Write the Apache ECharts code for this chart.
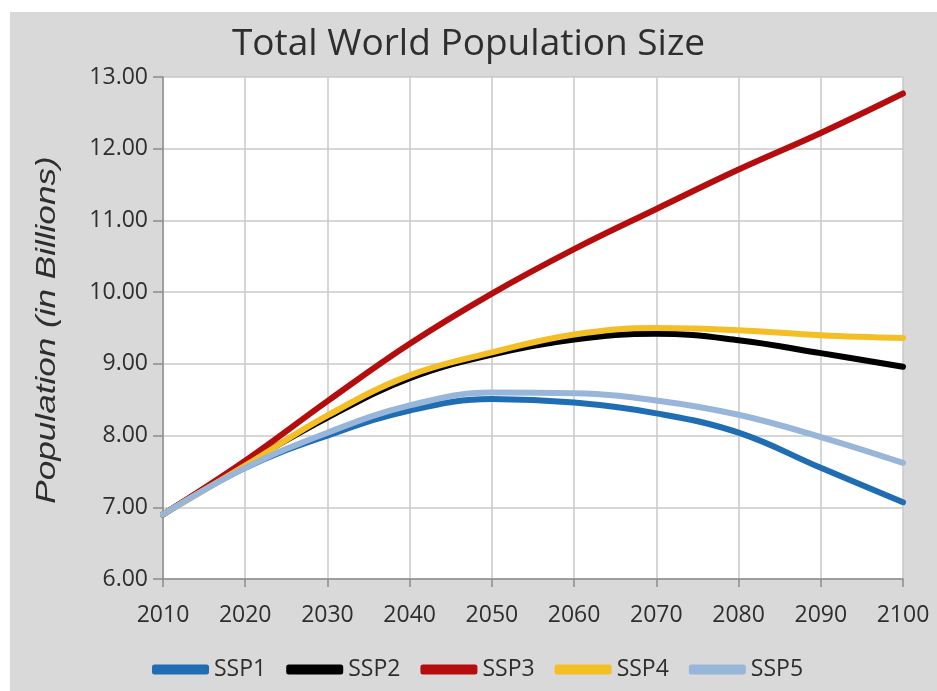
<!DOCTYPE html>
<html>
<head>
<meta charset="utf-8">
<script src="https://cdn.jsdelivr.net/npm/echarts@6/dist/echarts.min.js"></script>
<style>
html,body{margin:0;padding:0;background:#fff;}
#c{width:937px;height:691px;}
</style>
</head>
<body>
<div id="c"></div>
<script>
const years = [2010, 2020, 2030, 2040, 2050, 2060, 2070, 2080, 2090, 2100];
const seriesNames = ['SSP1', 'SSP2', 'SSP3', 'SSP4', 'SSP5'];
const ssp1 = [6.9, 7.55, 8.0, 8.35, 8.51, 8.46, 8.31, 8.04, 7.55, 7.07];
const ssp2 = [6.9, 7.6, 8.25, 8.8, 9.13, 9.34, 9.42, 9.33, 9.15, 8.96];
const ssp3 = [6.9, 7.65, 8.48, 9.28, 9.98, 10.6, 11.16, 11.71, 12.22, 12.77];
const ssp4 = [6.9, 7.58, 8.28, 8.84, 9.16, 9.41, 9.5, 9.47, 9.4, 9.36];
const ssp5 = [6.9, 7.55, 8.04, 8.42, 8.6, 8.59, 8.49, 8.29, 7.98, 7.62];
const colors = ['#1f6db3', '#000000', '#b50d0d', '#f4bf26', '#98b6da'];
const allValues = [ssp1, ssp2, ssp3, ssp4, ssp5];
const titleText = 'Total World Population Size';
const yAxisName = 'Population (in Billions)';

const chart = echarts.init(document.getElementById('c'), null, {renderer: 'canvas'});
const font = '"Open Sans", "Noto Sans", sans-serif';
const txt = '#2e2e2e';
chart.setOption({
  animation: false,
  backgroundColor: '#ffffff',
  graphic: [{
    type: 'rect', z: -10, silent: true,
    shape: {x: 10, y: 12, width: 927, height: 679},
    style: {fill: '#d9d9d9'}
  }, {
    type: 'text', silent: true, z: 10,
    x: 47, y: 330, rotation: Math.PI / 2, scaleX: 1.3, scaleY: 1,
    style: {
      text: yAxisName,
      fontFamily: '"Liberation Sans", Arial, sans-serif', fontStyle: 'italic', fontSize: 27,
      fill: txt, align: 'center', verticalAlign: 'middle'
    }
  }],
  title: {
    text: titleText,
    left: 'center', top: 21,
    textStyle: {fontFamily: font, fontSize: 37, fontWeight: 'normal', color: txt}
  },
  grid: {left: 163, top: 77, right: 34, bottom: 112, show: true, backgroundColor: '#ffffff', borderWidth: 0, containLabel: false},
  legend: {
    top: 653, left: 147,
    itemWidth: 57, itemHeight: 10, itemGap: 20,
    icon: 'roundRect',
    textStyle: {fontFamily: font, fontSize: 23, color: txt},
    data: seriesNames
  },
  xAxis: {
    type: 'value', min: 2010, max: 2100, interval: 10,
    axisLine: {show: true, lineStyle: {color: '#8c8c8c', width: 1.5}},
    axisTick: {show: true, length: 8, lineStyle: {color: '#8c8c8c', width: 1.5}},
    axisLabel: {fontFamily: font, fontSize: 23, color: txt, margin: 25, formatter: v => String(v)},
    splitLine: {show: true, lineStyle: {color: '#c8c8c8', width: 1.5}}
  },
  yAxis: {
    type: 'value', min: 6, max: 13, interval: 1,
    axisLine: {show: true, lineStyle: {color: '#8c8c8c', width: 1.5}},
    axisTick: {show: true, length: 10, inside: false, lineStyle: {color: '#8c8c8c', width: 1.5}},
    axisLabel: {fontFamily: font, fontSize: 23, color: txt, margin: 15, formatter: v => v.toFixed(2)},
    splitLine: {show: true, lineStyle: {color: '#c8c8c8', width: 1.5}}
  },
  series: seriesNames.map((n, i) => ({
    name: n, type: 'line', smooth: 0.4,
    showSymbol: false, symbol: 'none',
    data: years.map((y, j) => [y, allValues[i][j]]),
    lineStyle: {color: colors[i], width: 6, cap: 'round'},
    itemStyle: {color: colors[i]}
  }))
});
</script>
</body>
</html>
